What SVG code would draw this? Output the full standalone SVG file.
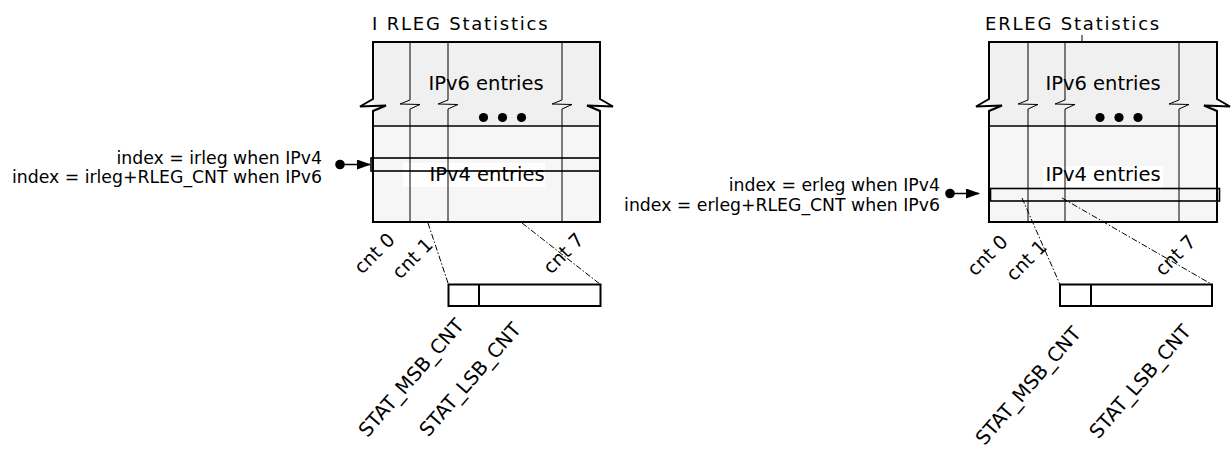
<svg xmlns="http://www.w3.org/2000/svg" width="1231" height="453" viewBox="0 0 1231 453">
<style>
text{font-family:"DejaVu Sans",Verdana,sans-serif;fill:#000}
.t17{font-size:17.3px}
.cnt{font-size:19px}
.stat{font-size:19.5px}
.big{font-size:19.5px}
.title{font-size:18px;letter-spacing:1.8px}
.up{fill:#f0f0f0;stroke:none}
.low{fill:#f6f6f6;stroke:none}
.frame{fill:none;stroke:#000;stroke-width:2}
.col{fill:none;stroke:#000;stroke-width:1}
.row{fill:none;stroke:#000;stroke-width:1.6}
.dd{fill:none;stroke:#000;stroke-width:1;stroke-dasharray:6 2 1.5 2}
.sm{fill:#fff;stroke:#000;stroke-width:2}
</style>
<defs>
<marker id="ah" markerWidth="14" markerHeight="12" refX="13" refY="5" orient="auto" markerUnits="userSpaceOnUse">
<path d="M0,0 L14,5 L0,10 Z" fill="#000"/>
</marker>
</defs>

<g id="irleg">
<text class="title" x="372" y="30">I RLEG Statistics</text>
<rect class="up" x="373" y="42" width="227" height="84"/>
<rect class="low" x="373" y="126" width="227" height="96"/>
<rect x="403" y="163" width="142" height="24" fill="#fff"/>
<path class="col" d="M410,42 V100 L400,104 L420,104.5 L410,109 V222 M448,42 V100 L438,104 L458,104.5 L448,109 V222 M562,42 V100 L552,104 L572,104.5 L562,109 V222"/>
<path class="frame" d="M373,222 V111 L386,105.5 L360,106.5 L373,99 V42 H600 V99 L613,106.5 L587,105.5 L600,111 V222 Z"/>
<line x1="373" y1="126" x2="600" y2="126" stroke="#000" stroke-width="1.5"/>
<text class="big" x="486" y="90" text-anchor="middle">IPv6 entries</text>
<circle cx="483.5" cy="117.5" r="4.6"/><circle cx="502.5" cy="117.5" r="4.6"/><circle cx="521.5" cy="117.5" r="4.6"/>
<rect class="row" x="371" y="158" width="229" height="13"/>
<text class="big" x="487" y="181" text-anchor="middle">IPv4 entries</text>
<text class="cnt" x="396" y="241" text-anchor="end" transform="rotate(-45 396 241)">cnt 0</text>
<text class="cnt" x="434" y="246" text-anchor="end" transform="rotate(-45 434 246)">cnt 1</text>
<text class="cnt" x="585" y="241" text-anchor="end" transform="rotate(-45 585 241)">cnt 7</text>
<rect class="sm" x="448.5" y="284.5" width="152" height="21.5"/>
<line x1="479" y1="284.5" x2="479" y2="306" stroke="#000" stroke-width="2"/>
<text class="stat" x="465" y="326" text-anchor="end" transform="rotate(-49 465 326)">STAT_MSB_CNT</text>
<text class="stat" x="522" y="330" text-anchor="end" transform="rotate(-49 522 330)">STAT_LSB_CNT</text>
<text class="t17" x="322" y="164" text-anchor="end">index = irleg when IPv4</text>
<text class="t17" x="322" y="183" text-anchor="end">index = irleg+RLEG_CNT when IPv6</text>
</g>

<g id="erleg">
<text class="title" x="985" y="30">ERLEG Statistics</text>
<line x1="1082" y1="35" x2="1082" y2="42" stroke="#000" stroke-width="1"/>
<rect class="up" x="989" y="42" width="228" height="84"/>
<rect class="low" x="989" y="126" width="228" height="96"/>
<rect x="1043" y="166" width="120" height="22" fill="#fff"/>
<path class="col" d="M1028,42 V100 L1018,104 L1038,104.5 L1028,109 V222 M1065,42 V100 L1055,104 L1075,104.5 L1065,109 V222 M1179,42 V100 L1169,104 L1189,104.5 L1179,109 V222"/>
<path class="frame" d="M989,222 V111 L1002,105.5 L976,106.5 L989,99 V42 H1217 V99 L1230,106.5 L1204,105.5 L1217,111 V222 Z"/>
<line x1="989" y1="126" x2="1217" y2="126" stroke="#000" stroke-width="1.5"/>
<text class="big" x="1103" y="90" text-anchor="middle">IPv6 entries</text>
<circle cx="1100" cy="117.5" r="4.6"/><circle cx="1119" cy="117.5" r="4.6"/><circle cx="1138" cy="117.5" r="4.6"/>
<rect class="row" x="990.5" y="188.5" width="229" height="12.5"/>
<text class="big" x="1103" y="181" text-anchor="middle">IPv4 entries</text>
<text class="cnt" x="1009" y="243" text-anchor="end" transform="rotate(-45 1009 243)">cnt 0</text>
<text class="cnt" x="1048" y="248" text-anchor="end" transform="rotate(-45 1048 248)">cnt 1</text>
<text class="cnt" x="1197" y="243" text-anchor="end" transform="rotate(-45 1197 243)">cnt 7</text>
<rect class="sm" x="1060" y="284.5" width="152" height="21.5"/>
<line x1="1091" y1="284.5" x2="1091" y2="306" stroke="#000" stroke-width="2"/>
<text class="stat" x="1082" y="334" text-anchor="end" transform="rotate(-49 1082 334)">STAT_MSB_CNT</text>
<text class="stat" x="1192" y="332" text-anchor="end" transform="rotate(-49 1192 332)">STAT_LSB_CNT</text>
<text class="t17" x="940" y="191" text-anchor="end">index = erleg when IPv4</text>
<text class="t17" x="940" y="211" text-anchor="end">index = erleg+RLEG_CNT when IPv6</text>
</g>

<g id="connectors">
<circle cx="340" cy="164.5" r="4.8"/>
<line x1="340" y1="164.5" x2="370" y2="164.5" stroke="#000" stroke-width="1.5" marker-end="url(#ah)"/>
<circle cx="950" cy="193.5" r="4.8"/>
<line x1="950" y1="193.5" x2="979" y2="193.5" stroke="#000" stroke-width="1.5" marker-end="url(#ah)"/>
<line class="dd" x1="428" y1="223" x2="448.5" y2="284.5"/>
<line class="dd" x1="522" y1="223" x2="600.5" y2="284.5"/>
<line class="dd" x1="1022" y1="198" x2="1060" y2="284.5"/>
<line class="dd" x1="1062" y1="198" x2="1212" y2="284.5"/>
</g>
</svg>
